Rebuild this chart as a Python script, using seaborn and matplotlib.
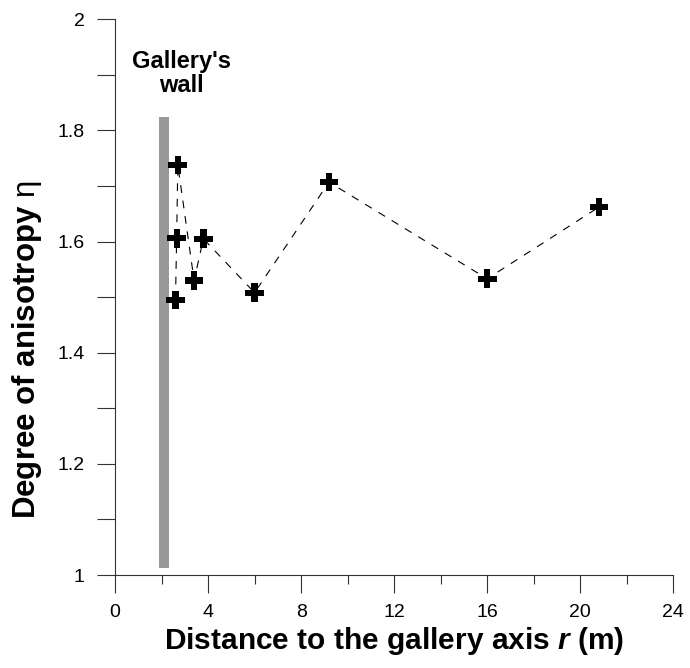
import numpy as np
import pandas as pd
import seaborn as sns
import matplotlib
matplotlib.use("Agg")
import matplotlib.pyplot as plt
from matplotlib.ticker import MultipleLocator

# distance to gallery axis (m) and degree of anisotropy
r_m = [2.6, 2.65, 2.7, 3.4, 3.8, 6.0, 9.2, 16.0, 20.8]
eta = [1.495, 1.606, 1.738, 1.530, 1.605, 1.508, 1.707, 1.533, 1.662]

wall_r = 2.1
wall_bottom = 1.013
wall_top = 1.825
wall_text = "Gallery's\nwall"

x_ticks = [0, 4, 8, 12, 16, 20, 24]
y_ticks = [1, 1.2, 1.4, 1.6, 1.8, 2]
y_ticklabels = ["1", "1.2", "1.4", "1.6", "1.8", "2"]

sns.set_style("ticks")
plt.rcParams['font.family'] = ['Liberation Sans', 'DejaVu Sans']
plt.rcParams['mathtext.fontset'] = 'custom'
plt.rcParams['mathtext.rm'] = 'Liberation Sans'
plt.rcParams['mathtext.it'] = 'Liberation Sans:italic:bold'
plt.rcParams['mathtext.bf'] = 'Liberation Sans:bold'
plt.rcParams['text.color'] = 'black'
plt.rcParams['axes.labelcolor'] = 'black'
plt.rcParams['xtick.labelcolor'] = 'black'
plt.rcParams['ytick.labelcolor'] = 'black'

df = pd.DataFrame({"r": r_m, "eta": eta})

fig = plt.figure(figsize=(6.9, 6.68), dpi=100)
ax = fig.add_axes([115 / 690, 1 - 575 / 668, 558.3 / 690, 555.7 / 668])

# gallery wall
ax.vlines(wall_r, wall_bottom, wall_top, color="#999999", linewidth=7.2, zorder=1)
ax.text(2.85, 1.945, wall_text, ha="center", va="top", fontsize=17,
        fontweight="bold", linespacing=1.05, color="black")

sns.lineplot(data=df, x="r", y="eta", sort=True, color="black",
             linewidth=0.8, ax=ax, zorder=2)
ax.lines[-1].set_dashes((7, 7))
sns.scatterplot(data=df, x="r", y="eta", marker="P", s=180, color="black",
                edgecolor="none", linewidth=0, ax=ax, zorder=3)

ax.set_xlim(0, 24)
ax.set_ylim(1, 2)
ax.set_xticks(x_ticks)
ax.set_yticks(y_ticks)
ax.set_yticklabels(y_ticklabels)
ax.xaxis.set_minor_locator(MultipleLocator(2))
ax.yaxis.set_minor_locator(MultipleLocator(0.1))

ax.tick_params(axis="both", which="major", direction="out", length=13,
               width=0.8, color="#333333", labelsize=14, labelcolor="black")
ax.tick_params(axis="x", which="major", pad=8)
ax.tick_params(axis="y", which="major", pad=9)
ax.tick_params(axis="x", which="minor", direction="out", length=6.5,
               width=0.8, color="#333333")
ax.tick_params(axis="y", which="minor", direction="out", length=13,
               width=0.8, color="#333333")

for side in ["top", "right"]:
    ax.spines[side].set_visible(False)
for side in ["left", "bottom"]:
    ax.spines[side].set_linewidth(0.8)
    ax.spines[side].set_color("#333333")

ax.set_xlabel(r"Distance to the gallery axis $\it{r}$ (m)", fontsize=21.5,
              fontweight="bold", color="black")
ax.set_ylabel(r"Degree of anisotropy $\mathrm{\eta}$", fontsize=22.5,
              fontweight="bold", color="black")
ax.xaxis.set_label_coords(0.5, -0.09)
ax.yaxis.set_label_coords(-0.128, 0.405)

fig.savefig("out.png", dpi=100)
